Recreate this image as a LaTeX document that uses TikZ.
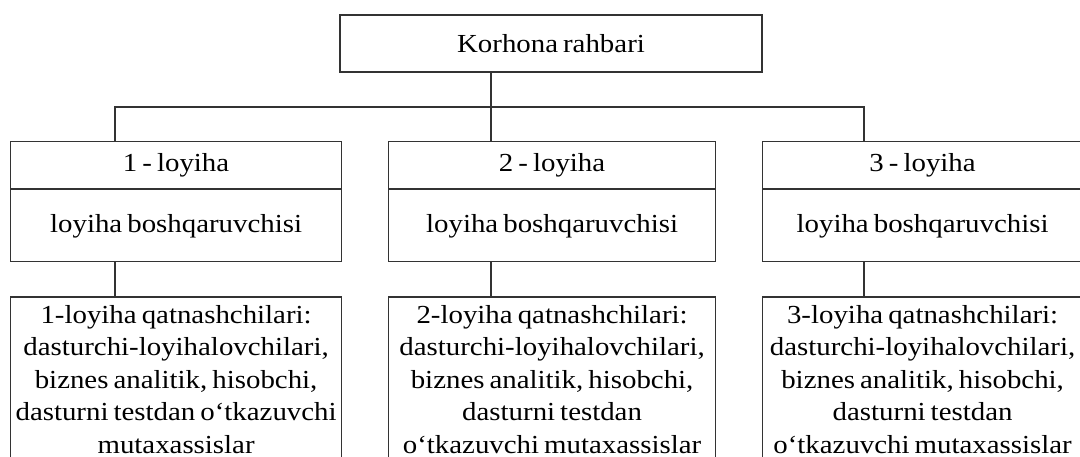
\documentclass[tikz,border=0pt]{standalone}
\usepackage{fontspec}
\setmainfont[FakeStretch=1.11, WordSpace=0.7]{Liberation Serif}
\usetikzlibrary{positioning}
\tikzset{
  box/.style={rectangle, draw=black!80, line width=0.6pt, align=center, inner sep=1.5pt, font=\fontsize{13}{16.25}\selectfont},
  topbox/.style={box, minimum width=211pt, minimum height=28.5pt},
  projbox/.style={box, minimum height=23.5pt},
  mgrbox/.style={box, minimum height=36pt},
  teambox/.style={box, inner ysep=4pt, text depth=8pt},
  link/.style={draw=black!80, line width=0.6pt},
}

\begin{document}
\begin{tikzpicture}[x=0.5pt, y=-0.5pt]
  \useasboundingbox (0,0) rectangle (1080,456);
  \clip (0,0) rectangle (1080,456);

  % Top
  \node[topbox] (head) at (551,43.5) {Korhona rahbari};

  % Projects
  \node[projbox, minimum width=165.5pt, anchor=north west] (proj1) at (10,141) {1 - loyiha};
  \node[projbox, minimum width=163.5pt, anchor=north west] (proj2) at (388,141) {2 - loyiha};
  \node[projbox, minimum width=160pt, anchor=north west] (proj3) at (762,141) {3 - loyiha};

  % Managers
  \node[mgrbox, minimum width=165.5pt, below=0pt of proj1] (mgr1) {loyiha boshqaruvchisi};
  \node[mgrbox, minimum width=163.5pt, below=0pt of proj2] (mgr2) {loyiha boshqaruvchisi};
  \node[mgrbox, minimum width=160pt, below=0pt of proj3] (mgr3) {loyiha boshqaruvchisi};

  % Teams
  \node[teambox, minimum width=165.5pt, below=17pt of mgr1] (team1) {1-loyiha qatnashchilari:\\dasturchi-loyihalovchilari,\\biznes analitik, hisobchi,\\dasturni testdan o‘tkazuvchi\\mutaxassislar};
  \node[teambox, minimum width=163.5pt, below=17pt of mgr2] (team2) {2-loyiha qatnashchilari:\\dasturchi-loyihalovchilari,\\biznes analitik, hisobchi,\\dasturni testdan\\o‘tkazuvchi mutaxassislar};
  \node[teambox, minimum width=160pt, below=17pt of mgr3] (team3) {3-loyiha qatnashchilari:\\dasturchi-loyihalovchilari,\\biznes analitik, hisobchi,\\dasturni testdan\\o‘tkazuvchi mutaxassislar};

  % Connectors
  \coordinate (c1) at ([xshift=52.5pt]proj1.north west);
  \coordinate (c2) at ([xshift=51.5pt]proj2.north west);
  \coordinate (c3) at ([xshift=51pt]proj3.north west);
  \draw[link] (head.south -| c2) -- (c2);
  \draw[link] (c1) -- ++(0pt,17pt) -| (c3);
  \draw[link] (mgr1.south -| c1) -- (team1.north -| c1);
  \draw[link] (mgr2.south -| c2) -- (team2.north -| c2);
  \draw[link] (mgr3.south -| c3) -- (team3.north -| c3);
\end{tikzpicture}
\end{document}
